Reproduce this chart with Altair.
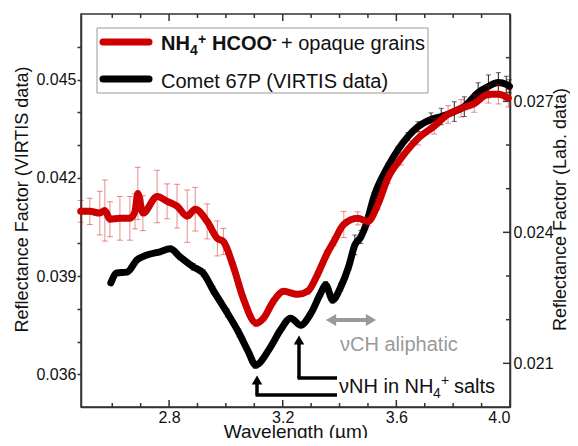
import altair as alt
import pandas as pd

# ---------------- data ----------------
# Comet 67P (VIRTIS data) -> left axis
comet_wl = [2.595, 2.616, 2.652, 2.687, 2.722, 2.768, 2.804, 2.839, 2.885, 2.920,
            2.955, 3.005, 3.046, 3.080, 3.104, 3.157, 3.192, 3.228, 3.263, 3.298,
            3.334, 3.351, 3.376, 3.404, 3.433, 3.454, 3.475, 3.493, 3.521, 3.570,
            3.606, 3.641, 3.676, 3.722, 3.758, 3.804, 3.839, 3.888, 3.924, 3.959,
            3.987, 3.998]
comet_rf = [0.03879, 0.03909, 0.03912, 0.03949, 0.03964, 0.03974, 0.03983, 0.03958, 0.03928, 0.03909,
            0.03857, 0.03787, 0.03726, 0.03667, 0.03628, 0.03683, 0.03735, 0.03771, 0.03750, 0.03784,
            0.03848, 0.03873, 0.03827, 0.03866, 0.03931, 0.03995, 0.04019, 0.04056, 0.04142, 0.04234,
            0.04286, 0.04326, 0.04356, 0.04378, 0.04387, 0.04402, 0.04417, 0.04460, 0.04479, 0.04491,
            0.04485, 0.04479]
comet_err = [0.00006, 0.00006, 0.00006, 0.00006, 0.00006, 0.00006, 0.00006, 0.00008, 0.0001, 0.0001,
             0.00012, 0.00012, 0.00012, 0.0001, 0.0001, 0.00008, 0.00008, 0.00008, 0.00008, 0.00008,
             0.0001, 0.0001, 0.0001, 0.00012, 0.00012, 0.0003, 0.0002, 0.00015, 0.00012, 0.0001,
             0.0001, 0.00012, 0.00015, 0.0002, 0.00025, 0.0003, 0.0003, 0.0003, 0.00035, 0.0003,
             0.00025, 0.0002]

# NH4+ HCOO- + opaque grains (Lab. data) -> right axis
lab_wl = [2.489, 2.521, 2.556, 2.574, 2.592, 2.627, 2.662, 2.680, 2.690, 2.708,
          2.758, 2.793, 2.828, 2.864, 2.892, 2.934, 2.970, 2.991, 3.026, 3.061,
          3.107, 3.132, 3.167, 3.203, 3.252, 3.288, 3.323, 3.355, 3.380, 3.415,
          3.464, 3.500, 3.535, 3.570, 3.616, 3.676, 3.733, 3.782, 3.828, 3.874,
          3.924, 3.959, 3.994]
lab_rf = [0.02448, 0.02448, 0.02444, 0.02450, 0.02430, 0.02432, 0.02432, 0.02448, 0.02489, 0.02444,
          0.02482, 0.02471, 0.02460, 0.02437, 0.02453, 0.02425, 0.02386, 0.02379, 0.02322, 0.02249,
          0.02192, 0.02203, 0.02242, 0.02265, 0.02258, 0.02265, 0.02304, 0.02350, 0.02379, 0.02418,
          0.02432, 0.02425, 0.02464, 0.02524, 0.02569, 0.02615, 0.02643, 0.02670, 0.02684, 0.02695,
          0.02716, 0.02716, 0.02707]
lab_err = [0.00025, 0.0003, 0.0005, 0.0007, 0.0004, 0.0005, 0.0005, 0.0004, 0.0006, 0.0004,
           0.0006, 0.0004, 0.0005, 0.0006, 0.0005, 0.0004, 0.0004, 0.0003, 0.0001, 0.00006,
           0.00008, 0.00006, 0.00006, 0.00006, 0.00006, 0.00006, 0.00006, 0.00008, 0.0001, 0.0003,
           0.00015, 0.0001, 0.00012, 0.00012, 0.00015, 0.00015, 0.00018, 0.0002, 0.0002, 0.0002,
           0.0002, 0.00022, 0.0002]

x_labels = [2.8, 3.2, 3.6, 4.0]
x_minor = [2.6, 2.7, 2.9, 3.0, 3.1, 3.3, 3.4, 3.5, 3.7, 3.8, 3.9]
left_ticks = [0.036, 0.037, 0.038, 0.039, 0.040, 0.041, 0.042, 0.043, 0.044, 0.045, 0.046]
right_labels = [0.021, 0.024, 0.027]
right_minor = [0.022, 0.023, 0.025, 0.026, 0.028]

x_domain = [2.49, 4.0]
left_domain = [0.035, 0.047]
right_domain = [0.020, 0.029]

# ---------------- styling ----------------
W, H = 429, 393
FONT = "Liberation Sans"
RED = "#cc0000"
INK = "#111111"
AX = "#333333"

comet = pd.DataFrame({"w": comet_wl, "v": comet_rf,
                      "lo": [v - e for v, e in zip(comet_rf, comet_err)],
                      "hi": [v + e for v, e in zip(comet_rf, comet_err)]})
lab = pd.DataFrame({"w": lab_wl, "v": lab_rf,
                    "lo": [v - e for v, e in zip(lab_rf, lab_err)],
                    "hi": [v + e for v, e in zip(lab_rf, lab_err)]})

xscale = alt.Scale(domain=x_domain, nice=False, zero=False)
yl_scale = alt.Scale(domain=left_domain, nice=False, zero=False)
yr_scale = alt.Scale(domain=right_domain, nice=False, zero=False)

x_axis = alt.Axis(values=x_labels, format=".1f", ticks=False, tickSize=0, labelFontSize=16,
                  labelPadding=2, labelFont=FONT, labelColor=INK, domainColor=AX, domainWidth=1.5,
                  grid=False, title="Wavelength (µm)", titleFont=FONT, titleFontSize=19,
                  titleFontWeight="normal", titleColor=INK, titleX=W / 2, titleY=30,
                  titleBaseline="alphabetic", titleAlign="center")
yl_axis = alt.Axis(values=left_ticks,
                   labelExpr="round(datum.value*1000) % 3 == 0 ? format(datum.value, '.3f') : ''",
                   tickSize=4, tickColor=AX, tickWidth=1.5, labelFontSize=16, labelPadding=1,
                   labelFont=FONT, labelColor=INK, domainColor=AX, domainWidth=1.5, grid=False,
                   title="Reflectance Factor (VIRTIS data)", titleFont=FONT, titleFontSize=18,
                   titleFontWeight="normal", titleColor=INK, titleX=-59, titleY=185,
                   titleAngle=-90, titleBaseline="middle", titleAlign="center")
yr_axis = alt.Axis(orient="right", values=right_labels, format=".3f", ticks=False, tickSize=0,
                   labelFontSize=16, labelPadding=3, labelFont=FONT, labelColor=INK,
                   domainColor=AX, domainWidth=1.5, grid=False,
                   title="Reflectance Factor (Lab. data)", titleFont=FONT, titleFontSize=18,
                   titleFontWeight="normal", titleColor=INK, titleX=50, titleY=195,
                   titleAngle=-90, titleBaseline="middle", titleAlign="center")


def X(f):
    return alt.X(f, scale=xscale, axis=x_axis)


def YL(f):
    return alt.Y(f, scale=yl_scale, axis=yl_axis)


def YR(f):
    return alt.Y(f, scale=yr_scale, axis=yr_axis)


# ---------- comet group (left axis) ----------
c_rule = alt.Chart(comet).mark_rule(color="#222", strokeWidth=1).encode(x=X("w:Q"), y=YL("lo:Q"), y2="hi:Q")
c_cap1 = alt.Chart(comet).mark_tick(orient="horizontal", size=5, thickness=1, color="#222").encode(x=X("w:Q"), y=YL("lo:Q"))
c_cap2 = alt.Chart(comet).mark_tick(orient="horizontal", size=5, thickness=1, color="#222").encode(x=X("w:Q"), y=YL("hi:Q"))
c_line = alt.Chart(comet).mark_line(color="black", strokeWidth=7, interpolate="monotone",
                                    strokeCap="round", strokeJoin="round").encode(x=X("w:Q"), y=YL("v:Q"))

xt_major = pd.DataFrame({"t": x_labels})
xt_minor = pd.DataFrame({"t": x_minor})
bt_major = alt.Chart(xt_major).mark_rule(color=AX, strokeWidth=1.5).encode(x=X("t:Q"), y=alt.value(H - 7), y2=alt.value(H))
bt_minor = alt.Chart(xt_minor).mark_rule(color=AX, strokeWidth=1.5).encode(x=X("t:Q"), y=alt.value(H - 4), y2=alt.value(H))
tt_major = alt.Chart(xt_major).mark_rule(color=AX, strokeWidth=1.5).encode(x=X("t:Q"), y=alt.value(0), y2=alt.value(7))
tt_minor = alt.Chart(xt_minor).mark_rule(color=AX, strokeWidth=1.5).encode(x=X("t:Q"), y=alt.value(0), y2=alt.value(4))

comet_group = alt.layer(bt_major, bt_minor, tt_major, tt_minor, c_rule, c_cap1, c_cap2, c_line)

# ---------- lab group (right axis) ----------
l_rule = alt.Chart(lab).mark_rule(color=RED, opacity=0.45, strokeWidth=1).encode(x=X("w:Q"), y=YR("lo:Q"), y2="hi:Q")
l_cap1 = alt.Chart(lab).mark_tick(orient="horizontal", size=6, thickness=1, color=RED, opacity=0.45).encode(x=X("w:Q"), y=YR("lo:Q"))
l_cap2 = alt.Chart(lab).mark_tick(orient="horizontal", size=6, thickness=1, color=RED, opacity=0.45).encode(x=X("w:Q"), y=YR("hi:Q"))
l_line = alt.Chart(lab).mark_line(color=RED, strokeWidth=7, interpolate="monotone",
                                  strokeCap="round", strokeJoin="round").encode(x=X("w:Q"), y=YR("v:Q"))
rt_major = alt.Chart(pd.DataFrame({"t": right_labels})).mark_rule(color=AX, strokeWidth=1.5).encode(
    y=YR("t:Q"), x=alt.value(W - 7), x2=alt.value(W))
rt_minor = alt.Chart(pd.DataFrame({"t": right_minor})).mark_rule(color=AX, strokeWidth=1.5).encode(
    y=YR("t:Q"), x=alt.value(W - 4), x2=alt.value(W))

lab_group = alt.layer(rt_major, rt_minor, l_rule, l_cap1, l_cap2, l_line)

# ---------- annotations (legend box, labels, arrows) ----------
one = pd.DataFrame({"a": [0]})


def txt(s, x, y, size=20, weight="normal", color=INK):
    return alt.Chart(one).mark_text(text=s, font=FONT, fontSize=size, fontWeight=weight, color=color,
                                    align="left", baseline="alphabetic").encode(x=alt.value(x), y=alt.value(y))


def hline(x1, x2, y, color, w, cap="butt"):
    return alt.Chart(one).mark_rule(color=color, strokeWidth=w, strokeCap=cap).encode(
        x=alt.value(x1), x2=alt.value(x2), y=alt.value(y))


def vline(x, y1, y2, color, w):
    return alt.Chart(one).mark_rule(color=color, strokeWidth=w).encode(
        x=alt.value(x), y=alt.value(y1), y2=alt.value(y2))


def head(x, y, shape, color, size):
    return alt.Chart(one).mark_point(shape=shape, filled=True, color=color, size=size, opacity=1).encode(
        x=alt.value(x), y=alt.value(y))


legend_box = alt.Chart(one).mark_rect(fill="white", stroke="#999999", strokeWidth=1).encode(
    x=alt.value(16), x2=alt.value(347), y=alt.value(14), y2=alt.value(79))

annots = [
    legend_box,
    hline(22, 68, 28, RED, 7, "round"),
    hline(22, 68, 65, "black", 7, "round"),
    txt("NH", 80, 36, 20, "bold"),
    txt("4", 109, 41, 14, "bold"),
    txt("+", 117, 30, 14, "bold"),
    txt("HCOO", 131, 36, 20, "bold"),
    txt("-", 191, 30, 14, "bold"),
    txt("+ opaque grains", 200, 36, 20),
    txt("Comet 67P (VIRTIS data)", 80, 74, 20),
    # nu NH annotation
    vline(176, 366, 381, "black", 3.5),
    hline(174.5, 256, 381, "black", 3.5),
    head(176, 366, "triangle-up", "black", 110),
    vline(218, 326, 364, "black", 3.5),
    hline(216.5, 256, 364, "black", 3.5),
    head(218, 326, "triangle-up", "black", 110),
    txt("νNH in NH", 258, 379, 20),
    txt("4", 352, 384, 14),
    txt("+", 360, 371, 14),
    txt("salts", 373, 379, 20),
    # nu CH aliphatic
    hline(252, 288, 306, "#999999", 4),
    head(250, 306, "triangle-left", "#999999", 140),
    head(290, 306, "triangle-right", "#999999", 140),
    txt("νCH aliphatic", 259, 337, 20, color="#999999"),
]
annot_group = alt.layer(*annots)

chart = alt.layer(comet_group, lab_group, annot_group).resolve_scale(y="independent").properties(
    width=W, height=H,
    padding={"left": 73, "top": 6, "right": 60, "bottom": 31},
    autosize=alt.AutoSizeParams(type="none"),
).configure_view(stroke=AX, strokeWidth=1.5)

chart.save("out.html", embed_options={"renderer": "svg", "actions": False})
